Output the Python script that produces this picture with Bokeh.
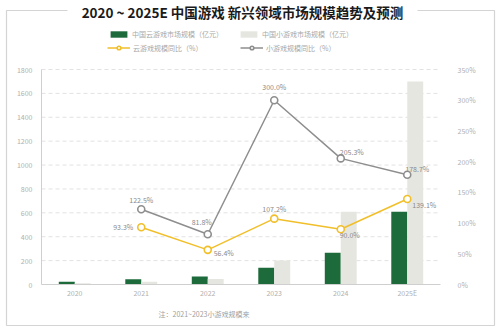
from bokeh.plotting import figure
from bokeh.models import (Range1d, LinearAxis, ColumnDataSource, Label,
                          BoxAnnotation, Legend, LegendItem, FixedTicker, PrintfTickFormatter)
from bokeh.transform import dodge
from bokeh.embed import file_html
from bokeh.resources import INLINE
from bokeh.core.properties import value

# ---- data ----
years = ["2020", "2021", "2022", "2023", "2024", "2025E"]
cloud_size = [22, 43, 67, 140, 265, 610]        # 中国云游戏市场规模（亿元）
mini_size = [10, 24, 47, 200, 610, 1700]        # 中国小游戏市场规模（亿元）
growth_years = ["2021", "2022", "2023", "2024", "2025E"]
cloud_yoy = [93.3, 56.4, 107.2, 90.0, 139.1]    # 云游戏规模同比（%）
mini_yoy = [122.5, 81.8, 300.0, 205.3, 178.7]   # 小游戏规模同比（%）
left_ticks = [0, 200, 400, 600, 800, 1000, 1200, 1400, 1600, 1800]
right_ticks = [0, 50, 100, 150, 200, 250, 300, 350]

FONT = "Noto Sans CJK SC"
GREEN = "#1d6a3b"
LIGHT = "#e6e6e0"
YELLOW = "#f1bf2a"
GREYL = "#8e8e8e"

W, H = 500, 328
# plot-area geometry inside the canvas (pixels)
PL, PR, PT, PB = 41, 440, 69, 284

n = len(years)
idx = {y: i for i, y in enumerate(years)}
cw = (PR - PL) / n                       # pixels per category
x_start = -0.5 - PL / cw
x_end = n - 0.5 + (W - PR) / cw
ymax = left_ticks[-1]
pmax = right_ticks[-1]
ppu = (PB - PT) / ymax
y_start = -(H - PB) / ppu
y_end = ymax + PT / ppu
pppu = (PB - PT) / pmax
p_start = -(H - PB) / pppu
p_end = pmax + PT / pppu

p = figure(width=W, height=H, x_range=Range1d(x_start, x_end), y_range=Range1d(y_start, y_end),
           output_backend="svg", toolbar_location=None, x_axis_location=None, y_axis_location=None,
           min_border=0, min_border_left=0, min_border_right=0, min_border_top=0, min_border_bottom=0)
p.title.visible = False
p.extra_y_ranges = {"pct": Range1d(p_start, p_end)}
p.outline_line_color = None
p.background_fill_color = "white"
p.border_fill_color = "white"
p.xgrid.visible = False
p.ygrid.visible = False

# gridlines (dashed) across the category span
p.segment(x0=-0.5, x1=n - 0.5, y0=left_ticks[1:], y1=left_ticks[1:],
          line_color="#e2e2e2", line_dash="4 3", line_width=1)

xi = [idx[y] for y in years]
bars = ColumnDataSource(dict(x=xi, cloud=cloud_size, mini=mini_size))
r_cloud = p.vbar(x=dodge("x", -0.12), top="cloud", width=0.24,
                 source=bars, fill_color=GREEN, line_color=None)
r_mini = p.vbar(x=dodge("x", 0.12), top="mini", width=0.24,
                source=bars, fill_color=LIGHT, line_color=None)

lines = ColumnDataSource(dict(
    x=[idx[y] for y in growth_years], cloud=cloud_yoy, mini=mini_yoy,
    cloud_txt=[f"{v:.1f}%" for v in cloud_yoy],
    mini_txt=[f"{v:.1f}%" for v in mini_yoy],
    cxo=[-18, 16, 0, 9, 17], cyo=[0, 3, -10, 6, 6],
    mxo=[0, -6, 0, 11, 10], myo=[-9, -12, -13, -6, -6],
))
l_mini = p.line("x", "mini", source=lines, y_range_name="pct", line_color=GREYL, line_width=1.5)
s_mini = p.scatter("x", "mini", source=lines, y_range_name="pct", size=7, fill_color="white",
                   line_color=GREYL, line_width=1.6)
l_cloud = p.line("x", "cloud", source=lines, y_range_name="pct", line_color=YELLOW, line_width=1.5)
s_cloud = p.scatter("x", "cloud", source=lines, y_range_name="pct", size=7, fill_color="white",
                    line_color=YELLOW, line_width=1.6)

p.text("x", "mini", text="mini_txt", source=lines, y_range_name="pct", x_offset="mxo",
       y_offset="myo", text_align="center", text_baseline="middle", text_font=value(FONT),
       text_font_size="7px", text_color="#8a8a8a")
p.text("x", "cloud", text="cloud_txt", source=lines, y_range_name="pct", x_offset="cxo",
       y_offset="cyo", text_align="center", text_baseline="middle", text_font=value(FONT),
       text_font_size="7px", text_color="#8a8a8a")

# ---- axes (library axes pinned inside the canvas) ----
def style(a):
    a.major_tick_line_color = None
    a.minor_tick_line_color = None
    a.major_label_text_font = FONT
    a.major_label_text_font_size = "7px"
    a.major_label_text_color = "#b0b0b0"

lax = LinearAxis(ticker=FixedTicker(ticks=left_ticks), fixed_location=-0.5, bounds=(0, ymax))
style(lax)
lax.axis_line_color = "#cfcfcf"
lax.major_label_standoff = 3
p.add_layout(lax, "left")

rax = LinearAxis(y_range_name="pct", ticker=FixedTicker(ticks=right_ticks),
                 formatter=PrintfTickFormatter(format="%d%%"), fixed_location=n - 0.5,
                 bounds=(0, pmax))
style(rax)
rax.axis_line_color = None
rax.major_label_standoff = 11
p.add_layout(rax, "right")

xax = LinearAxis(ticker=FixedTicker(ticks=list(range(n))), fixed_location=0,
                 bounds=(-0.5, n - 0.5),
                 major_label_overrides={i: y for i, y in enumerate(years)})
style(xax)
xax.axis_line_color = "#cfcfcf"
xax.major_label_standoff = -3
p.add_layout(xax, "below")

# ---- frame decorations (screen units; frame == canvas) ----
def sx(X):
    return X
def sy(Y):
    return H - Y

border = BoxAnnotation(left=sx(6), right=sx(494), top=sy(10), bottom=sy(325),
                       left_units="screen", right_units="screen", top_units="screen",
                       bottom_units="screen", fill_alpha=0, line_color="#707070", line_width=1.2,
                       level="overlay")
p.add_layout(border)
gap = BoxAnnotation(left=sx(67), right=sx(417), top=sy(6), bottom=sy(14),
                    left_units="screen", right_units="screen", top_units="screen",
                    bottom_units="screen", fill_color="white", fill_alpha=1, line_color=None,
                    level="overlay")
p.add_layout(gap)

title = Label(x=sx(242), y=sy(11), x_units="screen", y_units="screen",
              text="2020 ~ 2025E 中国游戏 新兴领域市场规模趋势及预测", text_font=FONT,
              text_font_size="13.5px", text_font_style="bold", text_color="#1a1a1a",
              text_align="center", text_baseline="middle", level="overlay")
p.add_layout(title)

note = Label(x=sx(158), y=sy(313), x_units="screen", y_units="screen",
             text="注：2021~2023小游戏规模来", text_font=FONT, text_font_size="7px",
             text_color="#a0a0a0", text_align="left", text_baseline="middle", level="overlay")
p.add_layout(note)

def mk_legend(label, renderers, X, Ycenter, gw, gh):
    lg = Legend(items=[LegendItem(label=label, renderers=renderers)],
                location=(sx(X), sy(Ycenter + 4.5)), orientation="horizontal",
                padding=0, margin=0, spacing=0, border_line_color=None,
                background_fill_alpha=0, glyph_width=gw, glyph_height=gh,
                label_height=9, label_standoff=3, label_text_font=FONT,
                label_text_font_size="7px", label_text_color="#a8a8a8",
                label_text_baseline="middle")
    p.add_layout(lg, "center")

mk_legend("中国云游戏市场规模（亿元）", [r_cloud], 108, 34.5, 21, 8)
mk_legend("中国小游戏市场规模（亿元）", [r_mini], 238, 34.5, 21, 8)
mk_legend("云游戏规模同比（%）", [l_cloud, s_cloud], 107, 48, 23, 9)
mk_legend("小游戏规模同比（%）", [l_mini, s_mini], 240, 48, 23, 9)

open("out.html", "w").write(file_html(p, INLINE))
